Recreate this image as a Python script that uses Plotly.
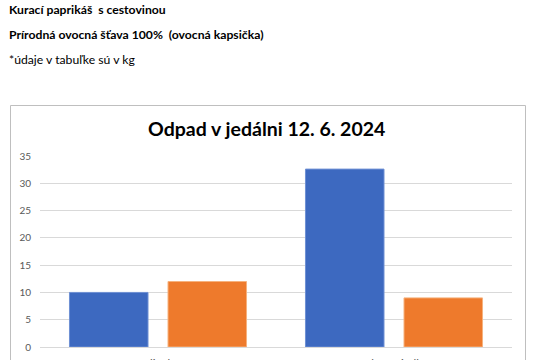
import plotly.graph_objects as go

categories = ["Polievka", "Hlavné jedlo"]
series1_name = "Rad 1"
series2_name = "Rad 2"
series1 = [10, 32.6]
series2 = [12, 9]
y_ticks = [0, 5, 10, 15, 20, 25, 30, 35]

header_lines = [
    ("<b>Kurací paprikáš  s cestovinou</b>", 9),
    ("<b>Prírodná ovocná šťava 100%  (ovocná kapsička)</b>", 34),
    ("*údaje v tabuľke sú v kg", 60),
]
chart_title = "Odpad v jedálni 12. 6. 2024"

W, H = 540, 360
FONT = "Lato, Carlito, Calibri, sans-serif"

fig = go.Figure()
fig.add_trace(go.Bar(x=categories, y=series1, name=series1_name,
                     marker=dict(color="#3d69c0", line=dict(color="#6f90d4", width=1))))
fig.add_trace(go.Bar(x=categories, y=series2, name=series2_name,
                     marker=dict(color="#ee7a2c", line=dict(color="#f6b27e", width=1))))

annotations = []
for text, py in header_lines:
    annotations.append(dict(text=text, x=7 / W, y=1 - py / H, xref="paper", yref="paper",
                            xanchor="left", yanchor="middle", showarrow=False,
                            font=dict(family=FONT, size=12.2, color="#000000")))
annotations.append(dict(text="<b>" + chart_title + "</b>", x=266 / W, y=1 - 128 / H,
                        xref="paper", yref="paper", xanchor="center", yanchor="middle",
                        showarrow=False, font=dict(family=FONT, size=19.5, color="#000000")))

fig.update_layout(
    width=W, height=H,
    margin=dict(l=0, r=0, t=0, b=0, autoexpand=False),
    paper_bgcolor="white", plot_bgcolor="white",
    showlegend=False,
    barmode="group", bargap=0.165, bargroupgap=0.203,
    font=dict(family=FONT, size=10, color="#595959"),
    annotations=annotations,
    shapes=[dict(type="rect", xref="paper", yref="paper",
                 x0=10.5 / W, x1=525.5 / W, y0=-0.2, y1=1 - 105.5 / H,
                 line=dict(color="#bfbfbf", width=1), fillcolor="rgba(0,0,0,0)", layer="below")],
    xaxis=dict(domain=[40 / W, 512 / W], showgrid=False, showline=True, automargin=False,
               linecolor="#d9d9d9", ticks="", tickfont=dict(size=11.5, color="#595959"),
               ticklabelstandoff=6),
    yaxis=dict(domain=[1 - 347 / H, 1 - 156 / H], range=[0, 35], tickvals=y_ticks,
               showgrid=True, gridcolor="#d9d9d9", gridwidth=1, zeroline=False,
               showline=False, ticks="", ticklabelstandoff=8, automargin=False,
               tickfont=dict(size=10, color="#595959")),
)

fig.write_html("out.html")
